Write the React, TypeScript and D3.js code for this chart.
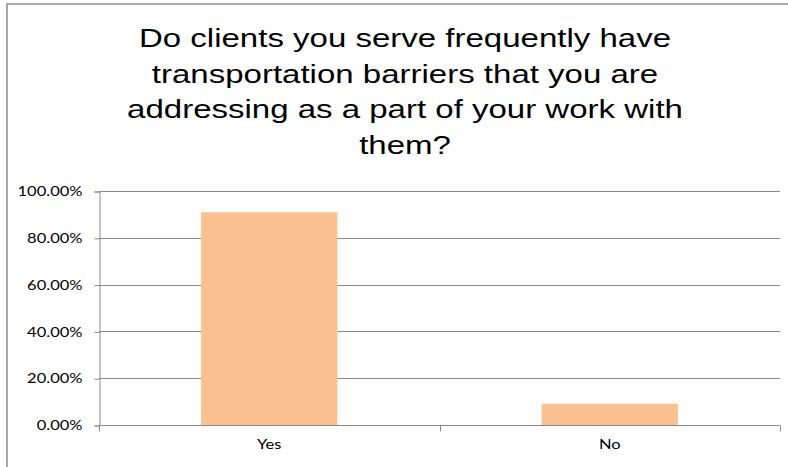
import * as d3 from "d3";
import React, { useLayoutEffect, useRef } from "react";

const categories = ["Yes", "No"];
const values = [0.9091, 0.0909];
const yTicks = [0, 0.2, 0.4, 0.6, 0.8, 1];
const titleLines = [
  "Do clients you serve frequently have",
  "transportation barriers that you are",
  "addressing as a part of your work with",
  "them?",
];

const W = 788;
const H = 467;
// the source picture is stretched sideways, so text is widened to match
const SX = 1.27;

const App: React.FC = () => {
  const ref = useRef<SVGSVGElement>(null);

  useLayoutEffect(() => {
    const svg = d3.select(ref.current);
    const left = 99;
    const right = 780;
    const top = 191;
    const bottom = 425;

    // outer chart frame (cut off on the right/bottom like the screenshot)
    svg
      .append("rect")
      .attr("x", 7)
      .attr("y", 4)
      .attr("width", 800)
      .attr("height", 500)
      .attr("fill", "#fff")
      .attr("stroke", "#8c8c8c")
      .attr("stroke-width", 1.5);

    svg
      .append("g")
      .selectAll("text")
      .data(titleLines)
      .enter()
      .append("text")
      .attr("text-anchor", "middle")
      .attr("font-family", "'Liberation Sans', Arial, sans-serif")
      .attr("font-size", 26)
      .attr("fill", "#000")
      .attr("transform", (_, i) => `translate(405,${47 + i * 35.6}) scale(${SX},1)`)
      .text((d) => d);

    const x = d3.scaleBand<string>().domain(categories).range([left, right]).paddingInner(0).paddingOuter(0);
    const y = d3.scaleLinear().domain([0, 1]).range([bottom, top]);
    const barW = x.bandwidth() / 2.5;

    const g = svg.append("g");

    // gridlines
    g.selectAll("line.grid")
      .data(yTicks.slice(1))
      .enter()
      .append("line")
      .attr("x1", left)
      .attr("x2", right)
      .attr("y1", (d) => Math.round(y(d)) + 0.5)
      .attr("y2", (d) => Math.round(y(d)) + 0.5)
      .attr("stroke", "#8a8a8a")
      .attr("stroke-width", 1);

    g.selectAll("rect.bar")
      .data(values)
      .enter()
      .append("rect")
      .attr("x", (_, i) => (x(categories[i]) as number) + (x.bandwidth() - barW) / 2)
      .attr("y", (d) => y(d))
      .attr("width", barW)
      .attr("height", (d) => bottom - y(d))
      .attr("fill", "#FAC090");

    const yAxis = d3
      .axisLeft(y)
      .tickValues(yTicks)
      .tickSize(5)
      .tickPadding(12)
      .tickFormat((d) => (Number(d) * 100).toFixed(2) + "%");
    const ya = svg.append("g").attr("transform", `translate(${left + 0.5},0.5)`).call(yAxis);
    ya.select(".domain").attr("stroke", "#8a8a8a");
    ya.selectAll(".tick line").attr("stroke", "#8a8a8a");
    ya.selectAll(".tick text")
      .attr("x", 0)
      .attr("transform", `translate(-17,0) scale(${SX},1)`)
      .attr("font-family", "Lato, 'Open Sans', sans-serif")
      .attr("font-size", 13)
      .attr("fill", "#000");

    const xAxis = d3.axisBottom(x).tickSize(0).tickPadding(14);
    const xa = svg.append("g").attr("transform", `translate(0,${bottom + 0.5})`).call(xAxis);
    xa.select(".domain").remove();
    xa.append("line")
      .attr("x1", left)
      .attr("x2", right)
      .attr("stroke", "#8a8a8a");
    xa.selectAll("line.sep")
      .data([left, (left + right) / 2, right])
      .enter()
      .append("line")
      .attr("x1", (d) => Math.round(d) + 0.5)
      .attr("x2", (d) => Math.round(d) + 0.5)
      .attr("y1", 0)
      .attr("y2", 6)
      .attr("stroke", "#8a8a8a");
    xa.selectAll(".tick text")
      .attr("transform", `scale(${SX},1)`)
      .attr("font-family", "Lato, 'Open Sans', sans-serif")
      .attr("font-size", 13)
      .attr("fill", "#000");

    return () => {
      svg.selectAll("*").remove();
    };
  }, []);

  return (
    <svg
      ref={ref}
      width={W}
      height={H}
      style={{ position: "absolute", left: 0, top: 0, display: "block", background: "#fff" }}
    />
  );
};

export default App;
